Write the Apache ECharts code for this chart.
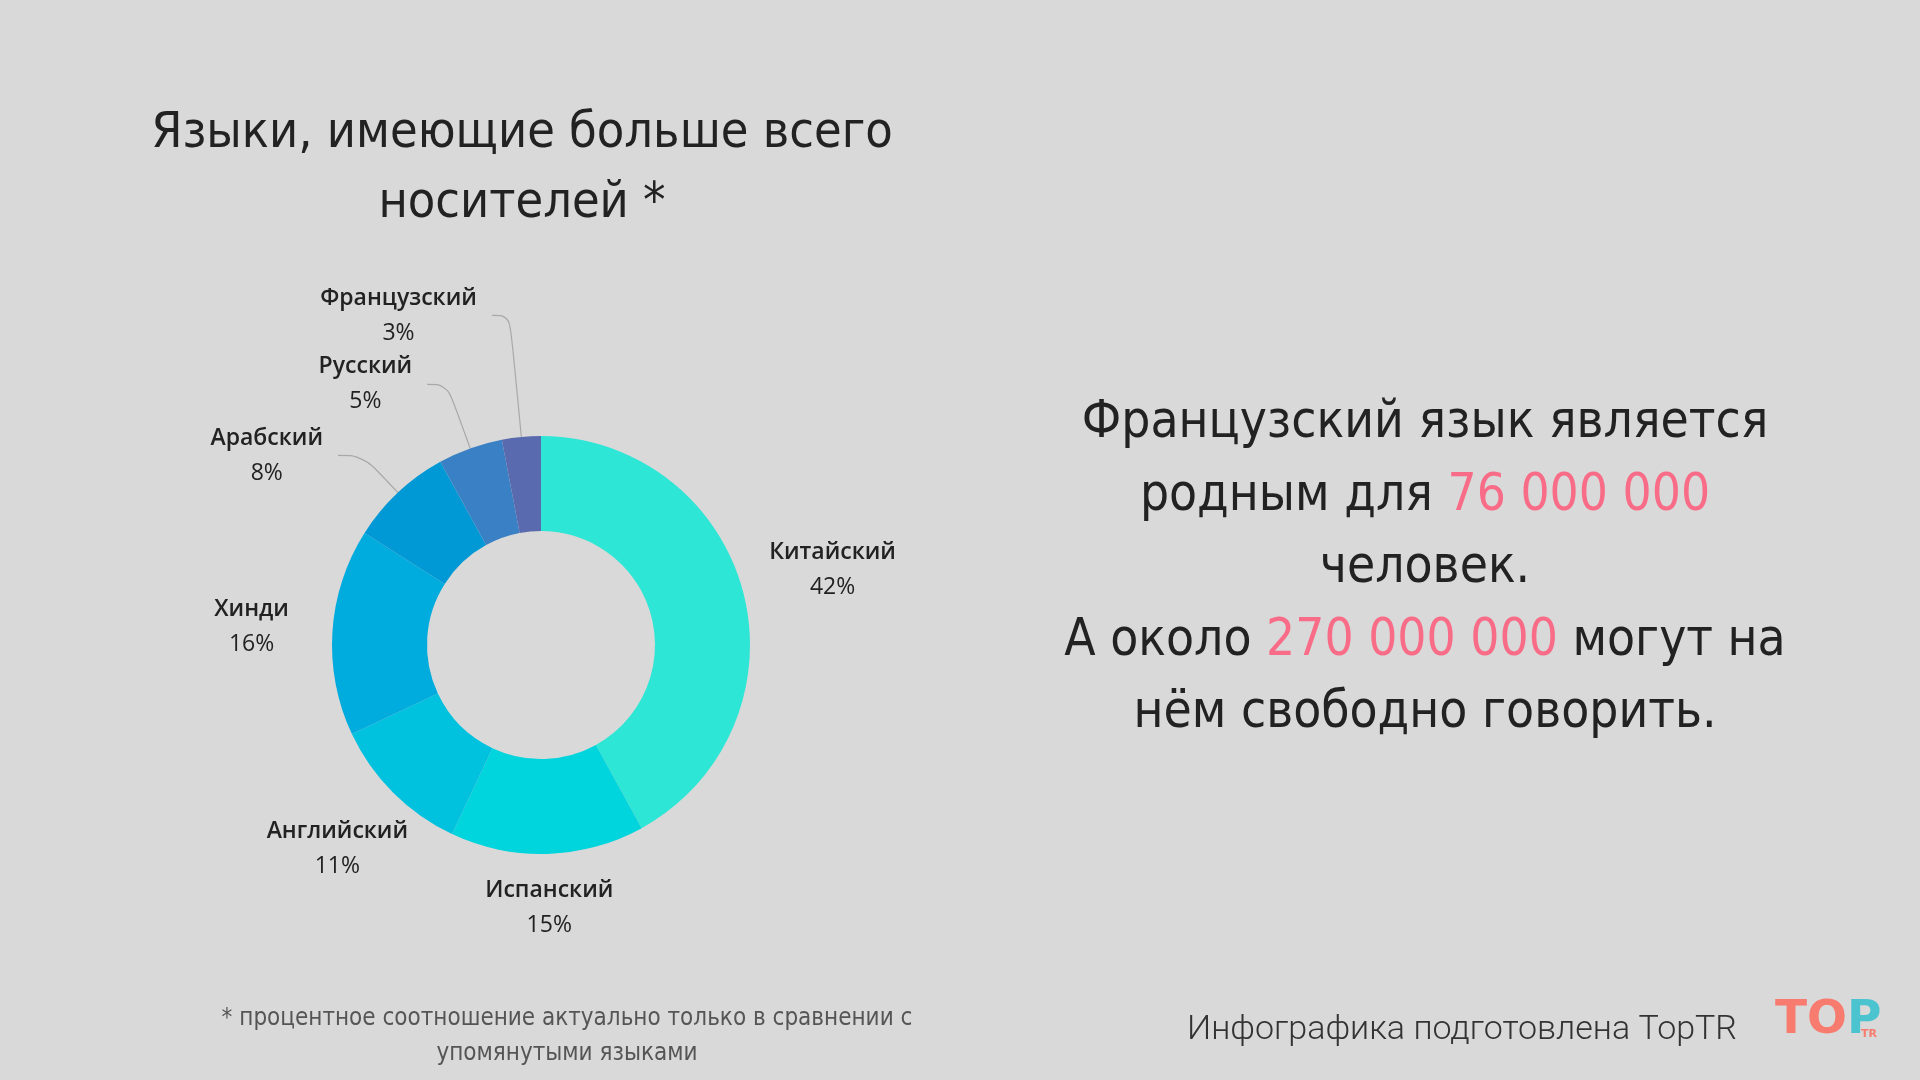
<!DOCTYPE html>
<html><head><meta charset="utf-8">
<script src="https://cdn.jsdelivr.net/npm/echarts@6/dist/echarts.min.js"></script>
<style>html,body{margin:0;padding:0;background:#d9d9d9;}#c{width:1920px;height:1080px;}</style>
</head><body><div id="c"></div>
<script>
// ---- data ----
const categories = ['Китайский','Испанский','Английский','Хинди','Арабский','Русский','Французский'];
const shares = [42, 15, 11, 16, 8, 5, 3];
const titleLines = ['Языки, имеющие больше всего', 'носителей *'];
const nativeSpeakers = '76 000 000';
const fluentSpeakers = '270 000 000';
const factLines = [
  'Французский язык является',
  'родным для {h|' + nativeSpeakers + '}',
  'человек.',
  'А около {h|' + fluentSpeakers + '} могут на',
  'нём свободно говорить.'
];
const footnoteLines = ['* процентное соотношение актуально только в сравнении с', 'упомянутыми языками'];
const creditText = 'Инфографика подготовлена TopTR';

// ---- styles ----
const colors = ['#2de6d5','#00d4dc','#00c1de','#00abdd','#0099d5','#3a80c4','#5a6aaf'];
const CX = 541, CY = 645, R0 = 114, R1 = 209;
const labelPlacement = {
  'Китайский':   {r: 301, dy: 0},
  'Испанский':   {r: 263, dy: 0},
  'Английский':  {r: 288, dy: 0},
  'Хинди':       {r: 290, dy: 0},
  'Арабский':    {len: 51, len2: 25},
  'Русский':     {len: 68, len2: 20},
  'Французский': {len: 122, len2: 18}
};
const bigFont = '"DejaVu Sans Condensed", "DejaVu Sans", sans-serif';
const labelFont = '"Open Sans", "Noto Sans", sans-serif';

const total = shares.reduce((a, b) => a + b, 0);
function midAngle(idx) {
  let cum = 0;
  for (let i = 0; i < idx; i++) cum += shares[i];
  return (cum + shares[idx] / 2) / total * Math.PI * 2;
}

const pieData = categories.map((name, i) => {
  const pl = labelPlacement[name];
  const item = {name: name, value: shares[i], itemStyle: {color: colors[i]}};
  if (pl.len) {
    item.labelLine = {show: true, length: pl.len, length2: pl.len2};
  } else {
    item.labelLine = {show: false};
  }
  return item;
});

const graphics = [];
titleLines.forEach((t, i) => {
  graphics.push({type: 'text', x: 522, y: 134 + i * 70, silent: true,
    style: {text: t, align: 'center', verticalAlign: 'middle',
      font: '400 50px ' + bigFont, fill: '#222'}});
});
factLines.forEach((t, i) => {
  graphics.push({type: 'text', x: 1425, y: 424 + i * 72.5, silent: true,
    style: {text: t, align: 'center', verticalAlign: 'middle',
      font: '400 51px ' + bigFont, fill: '#222',
      rich: {h: {font: '400 51px ' + bigFont, fill: '#f86c87', color: '#f86c87'}}}});
});
footnoteLines.forEach((t, i) => {
  graphics.push({type: 'text', x: 567, y: 1019 + i * 35, silent: true,
    style: {text: t, align: 'center', verticalAlign: 'middle',
      font: '400 24px ' + bigFont, fill: '#555'}});
});
graphics.push({type: 'text', x: 1462, y: 1030, silent: true,
  style: {text: creditText, align: 'center', verticalAlign: 'middle',
    font: '300 34px Roboto, sans-serif', fill: '#333'}});
// logo
graphics.push({type: 'text', x: 1775, y: 1021, silent: true,
  style: {text: '{a|TO}{b|P}', align: 'left', verticalAlign: 'middle',
    rich: {a: {font: '900 47px "DejaVu Sans", sans-serif', color: '#f77b6e', fill: '#f77b6e'},
           b: {font: '900 47px "DejaVu Sans", sans-serif', color: '#4cc4cf', fill: '#4cc4cf'}}}});
graphics.push({type: 'text', x: 1869, y: 1034, silent: true,
  style: {text: 'TR', align: 'center', verticalAlign: 'middle',
    font: '900 11px "DejaVu Sans", sans-serif', fill: '#f77b6e'}});

const chart = echarts.init(document.getElementById('c'));
chart.setOption({
  backgroundColor: '#d9d9d9',
  animation: false,
  graphic: graphics,
  series: [{
    type: 'pie',
    center: [CX, CY],
    radius: [R0, R1],
    startAngle: 90,
    clockwise: true,
    avoidLabelOverlap: false,
    emphasis: {disabled: true},
    itemStyle: {borderWidth: 0},
    label: {
      show: true,
      position: 'outside',
      distanceToLabelLine: 15,
      formatter: p => '{n|' + p.name + '}\n{p|' + Math.round(p.percent) + '%}',
      rich: {
        n: {fontFamily: labelFont, fontWeight: 600, fontSize: 23, color: '#222', align: 'center', lineHeight: 35},
        p: {fontFamily: labelFont, fontWeight: 400, fontSize: 23, color: '#222', align: 'center', lineHeight: 35}
      }
    },
    labelLine: {smooth: 0.4, lineStyle: {color: '#a9a9a9', width: 1.2}},
    labelLayout: function (p) {
      const name = categories[p.dataIndex];
      const pl = labelPlacement[name];
      if (!pl || !pl.r) return {};
      const a = midAngle(p.dataIndex);
      return {
        x: CX + Math.sin(a) * pl.r,
        y: CY - Math.cos(a) * pl.r + pl.dy,
        align: 'center',
        verticalAlign: 'middle'
      };
    },
    data: pieData
  }]
});
</script>
</body></html>
